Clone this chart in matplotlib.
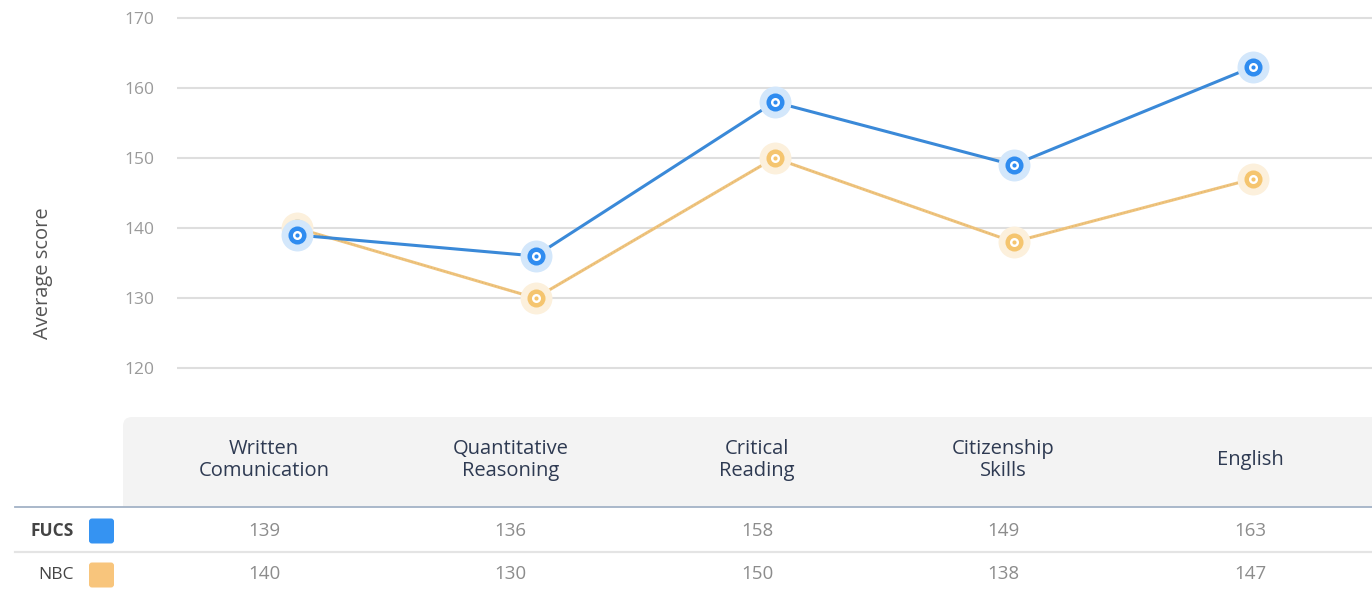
import matplotlib.pyplot as plt
from matplotlib.patches import FancyBboxPatch, Rectangle

plt.rcParams["font.family"] = ["Open Sans", "DejaVu Sans"]

# datos del gráfico
categories = ["Written\nComunication", "Quantitative\nReasoning", "Critical\nReading",
              "Citizenship\nSkills", "English"]
series_names = ["FUCS", "NBC"]
fucs_scores = [139, 136, 158, 149, 163]
nbc_scores = [140, 130, 150, 138, 147]
y_ticks = [120, 130, 140, 150, 160, 170]

W, H = 1372, 593
fig = plt.figure(figsize=(W / 100, H / 100), dpi=100)

# tabla de fondo en coordenadas de píxel
tab = fig.add_axes([0, 0, 1, 1], zorder=0)
tab.set_xlim(0, W)
tab.set_ylim(H, 0)
tab.axis("off")

ax = fig.add_axes([177 / W, 1 - 382 / H, 1195 / W, 371 / H], zorder=1)
ax.patch.set_alpha(0)
x = list(range(len(categories)))

styles = {
    "NBC": dict(line="#efc47e", face="#f5c56f", halo="#fcf0dc", swatch="#f8c57c"),
    "FUCS": dict(line="#3a89d8", face="#2f8cf0", halo="#d3e7fb", swatch="#3593f2"),
}

for name, vals in [("NBC", nbc_scores), ("FUCS", fucs_scores)]:
    st = styles[name]
    z = 3 if name == "NBC" else 5
    ax.plot(x, vals, color=st["line"], lw=2.2, zorder=z, solid_capstyle="round")
    if name == "NBC":
        ax.plot(x, vals, color="#d9ad66", lw=0.8, dashes=(1, 2), alpha=0.6, zorder=z)
    ax.plot(x, vals, "o", ms=23, color=st["halo"], mec="none", zorder=z)
    ax.plot(x, vals, "o", ms=13, color=st["face"], mec="none", zorder=z + 0.1)
    ax.plot(x, vals, "o", ms=6.5, color="white", mec="none", zorder=z + 0.2)
    ax.plot(x, vals, "o", ms=3, color=st["face"], mec="none", zorder=z + 0.3)

ax.set_xlim(-0.5, len(categories) - 0.5)
ax.set_ylim(118, 171)
ax.set_yticks(y_ticks)
ax.set_xticks([])
ax.tick_params(axis="y", length=0, pad=16, labelsize=12.5, labelcolor="#9a9a9a")
ax.grid(axis="y", color="#dedede", lw=1.5)
ax.set_axisbelow(True)
for s in ax.spines.values():
    s.set_visible(False)

fig.text(43 / W, 1 - 273 / H, "Average score", rotation=90, ha="center", va="center",
         fontsize=14.5, color="#555555")

# cabecera de la tabla
tab.add_patch(FancyBboxPatch((123, 417), W, 90, boxstyle="round,pad=0,rounding_size=9",
                             fc="#f3f3f3", ec="none"))
tab.add_patch(Rectangle((123, 470), W, 37, fc="#f3f3f3", ec="none"))
tab.plot([15, W], [507, 507], color="#a3b2c6", lw=1.3)
tab.plot([15, W], [552, 552], color="#e4e4e4", lw=1.6)

# columnas de la tabla: repartidas a lo largo de la cabecera
col_x0, col_step = 264, 246.5
for i, cat in enumerate(categories):
    cx = col_x0 + col_step * i
    tab.text(cx, 460, cat, ha="center", va="center", fontsize=14.5,
             color="#2e3a52", linespacing=1.15)
    tab.text(cx, 531, str(fucs_scores[i]), ha="center", va="center",
             fontsize=13.5, color="#8c8c8c")
    tab.text(cx, 574, str(nbc_scores[i]), ha="center", va="center",
             fontsize=13.5, color="#8c8c8c")

row_y = {"FUCS": 531, "NBC": 575}
for name in series_names:
    yy = row_y[name]
    tab.text(74, yy, name, ha="right", va="center", fontsize=12.5,
             color="#444444", fontweight="bold" if name == "FUCS" else "normal")
    tab.add_patch(FancyBboxPatch((89, yy - 12.5), 25, 25,
                                 boxstyle="round,pad=0,rounding_size=3",
                                 fc=styles[name]["swatch"], ec="none"))

fig.savefig("out.png", dpi=100)
